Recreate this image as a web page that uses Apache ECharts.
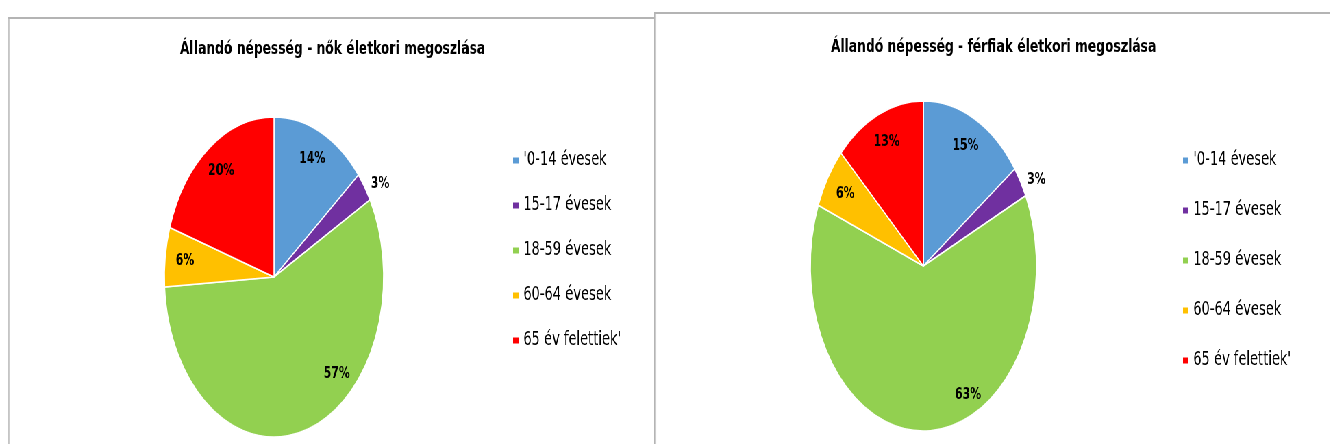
<!DOCTYPE html>
<html>
<head>
<meta charset="utf-8">
<script src="https://cdn.jsdelivr.net/npm/echarts@6/dist/echarts.min.js"></script>
<style>
  html, body { margin: 0; padding: 0; background: #fff; overflow: hidden; }
  #page { position: relative; width: 1942px; height: 444px; transform: scaleX(0.685); transform-origin: 0 0; }
  .box { position: absolute; background: #fff; border-top: 2px solid #b4b4b4; border-left: 2px solid #b4b4b4; }
  #box_nok { left: 12px; top: 17px; width: 943px; height: 440px; }
  #box_ferfi { left: 955px; top: 12px; width: 987px; height: 440px; }
  .chart { width: 100%; height: 100%; }
</style>
</head>
<body>
<div id="page">
  <div class="box" id="box_nok"><div class="chart" id="nok_ref"></div></div>
  <div class="box" id="box_ferfi"><div class="chart" id="ferfi_ref"></div></div>
</div>
<script>
// korcsoportok
const categories = ["'0-14 évesek", '15-17 évesek', '18-59 évesek', '60-64 évesek', "65 év felettiek'"]
// nők / férfiak megoszlása (%)
const nokValues = [14, 3, 57, 6, 20]
const ferfiValues = [15, 3, 63, 6, 13]
const colors = ['#5B9BD5', '#7030A0', '#92D050', '#FFC000', '#FF0000']
const titles = ['Állandó népesség - nők életkori megoszlása', 'Állandó népesség - férfiak életkori megoszlása']

const fontFamily = 'DejaVu Sans, sans-serif'

function buildOption (title, values, cfg) {
  const maxValue = Math.max(...values)
  const data = categories.map((name, i) => {
    let label = { position: 'inside' }
    if (values[i] < 5) {
      label = { position: 'outside' }
    } else if (values[i] === maxValue) {
      // Excel "legjobb illeszkedés" - a nagy szelet felirata kijjebb kerül
      label = { position: 'inside', offset: cfg.bigLabelOffset }
    }
    return { name: name, value: values[i], label: label }
  })
  return {
    color: colors,
    animation: false,
    title: {
      text: title,
      left: 'center',
      top: cfg.titleTop,
      textStyle: { fontFamily: fontFamily, fontSize: 18, fontWeight: 'bold', color: '#000' }
    },
    legend: {
      orient: 'vertical',
      left: cfg.legendLeft,
      top: cfg.legendTop,
      icon: 'rect',
      itemWidth: 10,
      itemHeight: 8,
      itemGap: cfg.legendGap,
      selectedMode: false,
      data: categories,
      textStyle: { fontFamily: fontFamily, fontSize: 19, color: '#000', padding: [0, 0, 0, 1] }
    },
    series: [
      {
        // a teljes kördiagram
        type: 'pie',
        center: cfg.center,
        radius: [0, cfg.radius],
        startAngle: 90,
        clockwise: true,
        silent: true,
        label: { show: false },
        labelLine: { show: false },
        itemStyle: { borderColor: '#fff', borderWidth: 1.5 },
        data: categories.map((name, i) => ({ name: name, value: values[i] }))
      },
      {
        // átlátszó gyűrű csak a feliratok miatt
        type: 'pie',
        center: cfg.center,
        radius: [cfg.radius * 0.6, cfg.radius],
        startAngle: 90,
        clockwise: true,
        silent: true,
        itemStyle: { color: 'rgba(0,0,0,0)', borderWidth: 0 },
        label: {
          show: true,
          color: '#000',
          fontFamily: fontFamily,
          fontSize: 16,
          fontWeight: 'bold',
          formatter: (p) => Math.round(p.percent) + '%'
        },
        labelLine: { show: false, length: 5, length2: 0 },
        data: data
      }
    ]
  }
}

const nokChart = echarts.init(document.getElementById('nok_ref'))
nokChart.setOption(buildOption(titles[0], nokValues, {
  titleTop: 16,
  center: [386, 258],
  radius: 160,
  bigLabelOffset: [55, -29],
  legendLeft: 728,
  legendTop: 127,
  legendGap: 26
}))

const ferfiChart = echarts.init(document.getElementById('ferfi_ref'))
ferfiChart.setOption(buildOption(titles[1], ferfiValues, {
  titleTop: 19,
  center: [391, 252],
  radius: 165,
  bigLabelOffset: [61, -6],
  legendLeft: 763,
  legendTop: 132,
  legendGap: 31
}))
</script>
</body>
</html>
